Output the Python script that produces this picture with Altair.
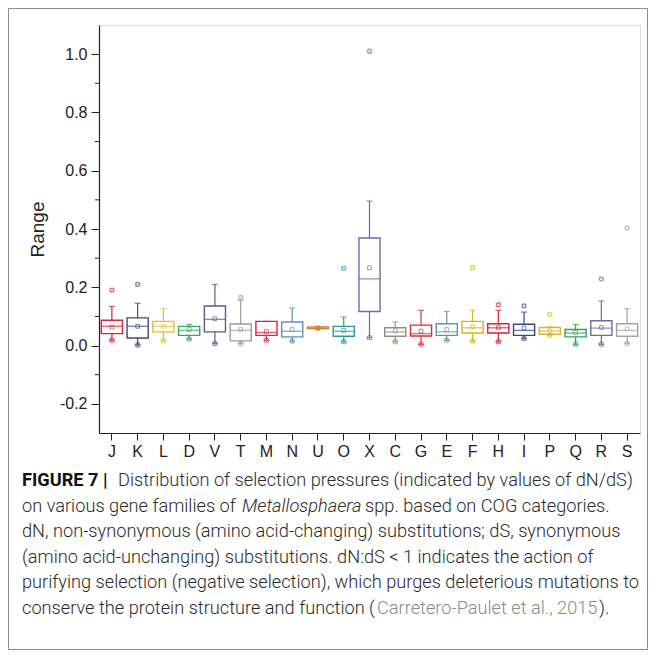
import altair as alt
import pandas as pd

cats = ["J", "K", "L", "D", "V", "T", "M", "N", "U", "O", "X",
        "C", "G", "E", "F", "H", "I", "P", "Q", "R", "S"]
colors = ["#d9263a", "#3c4b7c", "#e6c02c", "#3aa85c", "#5b5b8c", "#9a9a9a",
          "#e0263a", "#5a92c2", "#d98024", "#2a9a9a", "#6b6bb2", "#9a8c7c",
          "#d3303f", "#5a9aa2", "#d6b424", "#d3223a", "#304b82", "#e2b224",
          "#32a452", "#6b6b9c", "#a2a2a2"]
q1 = [0.041, 0.026, 0.047, 0.035, 0.047, 0.016, 0.035, 0.030, 0.058, 0.032, 0.117,
      0.032, 0.033, 0.035, 0.043, 0.043, 0.035, 0.039, 0.030, 0.035, 0.032]
med = [0.066, 0.066, 0.066, 0.052, 0.090, 0.052, 0.045, 0.049, 0.061, 0.049, 0.229,
       0.047, 0.041, 0.047, 0.061, 0.061, 0.052, 0.050, 0.043, 0.060, 0.052]
q3 = [0.087, 0.095, 0.083, 0.066, 0.136, 0.074, 0.083, 0.081, 0.064, 0.066, 0.369,
      0.061, 0.070, 0.075, 0.083, 0.075, 0.073, 0.062, 0.055, 0.085, 0.075]
wlo = [0.018, 0.002, 0.016, 0.022, 0.007, 0.007, 0.018, 0.015, 0.058, 0.013, 0.027,
       0.013, 0.004, 0.018, 0.015, 0.013, 0.024, 0.035, 0.004, 0.004, 0.007]
whi = [0.134, 0.145, 0.127, 0.073, 0.210, 0.155, 0.083, 0.129, 0.064, 0.098, 0.496,
       0.081, 0.121, 0.117, 0.121, 0.121, 0.115, 0.065, 0.072, 0.153, 0.127]
mean = [0.063, 0.066, 0.066, 0.055, 0.092, 0.055, 0.048, 0.055, 0.061, 0.052, 0.267,
        0.050, 0.050, 0.055, 0.065, 0.062, 0.060, 0.050, 0.045, 0.062, 0.058]
out_cats = ["J", "K", "T", "O", "X", "F", "H", "I", "P", "R", "S"]
out_vals = [0.190, 0.210, 0.165, 0.265, 1.010, 0.267, 0.140, 0.136, 0.107, 0.229, 0.403]
major_ticks = [-0.2, 0.0, 0.2, 0.4, 0.6, 0.8, 1.0]
minor_ticks = [-0.1, 0.1, 0.3, 0.5, 0.7, 0.9]

TXT = "#2a2a2a"
caption = [
    [("FIGURE 7 |", "bold", "normal", "#111111"),
     ("Distribution of selection pressures (indicated by values of dN/dS)", 300, "normal", TXT)],
    [("on various gene families of", 300, "normal", TXT),
     ("Metallosphaera", 300, "italic", TXT),
     ("spp. based on COG categories.", 300, "normal", TXT)],
    [("dN, non-synonymous (amino acid-changing) substitutions; dS, synonymous", 300, "normal", TXT)],
    [("(amino acid-unchanging) substitutions. dN:dS < 1 indicates the action of", 300, "normal", TXT)],
    [("purifying selection (negative selection), which purges deleterious mutations to", 300, "normal", TXT)],
    [("conserve the protein structure and function (", 300, "normal", TXT),
     ("Carretero-Paulet et al., 2015", 300, "normal", "#8a8a8a"),
     (").", 300, "normal", TXT)],
]
seg_x = [[22, 118], [22, 242, 365], [22], [22], [22], [22, 377, 599]]
line_y = [456, 482, 507, 533, 558, 584]

df = pd.DataFrame(dict(cat=cats, q1=q1, med=med, q3=q3, wlo=wlo, whi=whi, mean=mean))
outdf = pd.DataFrame(dict(cat=out_cats, v=out_vals))
minordf = pd.DataFrame(dict(v=minor_ticks))

FONT = "Liberation Sans"
CAPFONT = "Roboto"

xsc = alt.Scale(domain=cats, paddingInner=0.18, paddingOuter=0.09)
ysc = alt.Scale(domain=[-0.3, 1.1], nice=False, zero=False)
csc = alt.Scale(domain=cats, range=colors)

X = alt.X("cat:N", scale=xsc, sort=cats,
          axis=alt.Axis(title=None, labelAngle=0, labelFontSize=16, labelFont=FONT,
                        labelColor="#222222", tickSize=7, labelPadding=3,
                        domainColor="#222222", tickColor="#222222", domainWidth=1.2))
Yax = alt.Axis(values=major_ticks, title="Range", titleFontSize=19, titleFont=FONT,
               titleFontWeight="normal", titleColor="#222222", titlePadding=12,
               labelFontSize=16, labelFont=FONT, labelColor="#222222",
               labelExpr="replace(format(datum.value, '.1f'), '\u2212', '-')",
               tickSize=8, labelPadding=4, grid=False,
               domainColor="#222222", tickColor="#222222", domainWidth=1.2)
C = alt.Color("cat:N", scale=csc, legend=None)

base = alt.Chart(df)
whisk = base.mark_rule(strokeWidth=1.2).encode(
    x=X, y=alt.Y("wlo:Q", scale=ysc, axis=Yax), y2="whi:Q", color=C)
box = base.mark_bar(fill="white", strokeWidth=1.4).encode(
    x=X, y=alt.Y("q1:Q", scale=ysc), y2="q3:Q",
    stroke=alt.Stroke("cat:N", scale=csc, legend=None))
median = base.mark_tick(thickness=1.4, size=21).encode(x=X, y=alt.Y("med:Q", scale=ysc), color=C)
cap_lo = base.mark_tick(thickness=1.2, size=6).encode(x=X, y=alt.Y("wlo:Q", scale=ysc), color=C)
cap_hi = base.mark_tick(thickness=1.2, size=6).encode(x=X, y=alt.Y("whi:Q", scale=ysc), color=C)
meanpt = base.mark_point(shape="square", size=14, filled=False, strokeWidth=1).encode(
    x=X, y=alt.Y("mean:Q", scale=ysc), color=C)
minx = base.mark_point(shape="cross", angle=45, size=20, filled=False, strokeWidth=1).encode(
    x=X, y=alt.Y("wlo:Q", scale=ysc), color=C)
outx = alt.Chart(outdf).mark_point(shape="cross", angle=45, size=20, filled=False,
                                    strokeWidth=1, opacity=0.7).encode(
    x=X, y=alt.Y("v:Q", scale=ysc), color=C)
minor = alt.Chart(minordf).mark_rule(color="#222222", strokeWidth=1).encode(
    y=alt.Y("v:Q", scale=ysc), x=alt.value(-4), x2=alt.value(0))

one = pd.DataFrame({"a": [0]})
frame = alt.Chart(one).mark_rect(fill="transparent", stroke="#8c8c8c", strokeWidth=1).encode(
    x=alt.value(-90.5), x2=alt.value(548.5), y=alt.value(-16.5), y2=alt.value(624.5))

texts = []
for li, segs in enumerate(caption):
    for si, (t, w, st, col) in enumerate(segs):
        texts.append(alt.Chart(one).mark_text(
            align="left", baseline="middle", font=CAPFONT, fontSize=18.2,
            fontWeight=w, fontStyle=st, color=col).encode(
            x=alt.value(seg_x[li][si] - 99), y=alt.value(line_y[li]),
            text=alt.value(t)))

chart = alt.layer(frame, minor, whisk, cap_lo, cap_hi, box, median, meanpt, minx, outx,
                  *texts).properties(
    width=541, height=408,
    autosize=alt.AutoSizeParams(type="none"),
    padding={"left": 91, "top": 17, "right": 9, "bottom": 217},
).configure_view(stroke=None).configure(background="white")

chart.save("out.html", embed_options={"renderer": "svg", "actions": False})
